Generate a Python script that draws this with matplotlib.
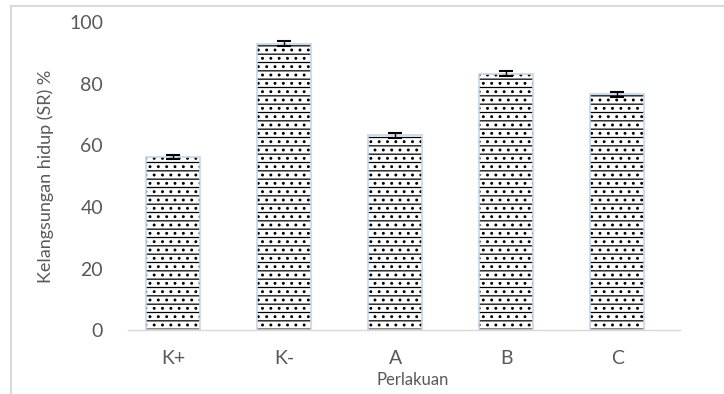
import matplotlib.pyplot as plt
import matplotlib.lines as mlines

plt.rcParams['font.family'] = ['Lato', 'DejaVu Sans']
plt.rcParams['hatch.linewidth'] = 0.9

categories = ['K+', 'K-', 'A', 'B', 'C']
sr_values = [56.2, 92.9, 63.3, 83.2, 76.5]
sr_errors = [0.8, 0.8, 0.8, 0.8, 0.8]

grey = '#595959'

fig = plt.figure(figsize=(7.24, 3.94), dpi=100)
ax = fig.add_axes([128/724, 0.162, 552/724, 0.782])

ax.bar(range(len(categories)), sr_values, width=0.49, color='white',
       edgecolor='black', hatch='..--', linewidth=0)
ax.bar(range(len(categories)), sr_values, width=0.49, color='none',
       edgecolor='#c5d5ea', linewidth=1.2)
ax.errorbar(range(len(categories)), sr_values, yerr=sr_errors, fmt='none',
            ecolor='black', elinewidth=1, capsize=5, capthick=1.5)

ax.set_ylim(0, 100)
ax.set_xlim(-0.405, 4.565)
ax.set_yticks([0, 20, 40, 60, 80, 100])
ax.set_xticks(range(len(categories)))
ax.set_xticklabels(categories)
ax.tick_params(axis='both', length=0, labelsize=14, labelcolor=grey)
ax.tick_params(axis='y', pad=18)
ax.tick_params(axis='x', pad=14)
for s in ['top', 'right', 'left']:
    ax.spines[s].set_visible(False)
ax.spines['bottom'].set_color('#d9d9d9')
ax.spines['bottom'].set_linewidth(1)

ax.set_ylabel('Kelangsungan hidup (SR) %', fontsize=13, color=grey, labelpad=11)
fig.text(0.57, 0.035, 'Perlakuan', ha='center', va='center', fontsize=12, color=grey)

# chart frame (top and left edges visible)
fig.add_artist(mlines.Line2D([11/724, 1], [1 - 6/394, 1 - 6/394], color='#d9d9d9', lw=1.5))
fig.add_artist(mlines.Line2D([11/724, 11/724], [0, 1 - 6/394], color='#d9d9d9', lw=1.5))

fig.savefig('out.png', dpi=100)
